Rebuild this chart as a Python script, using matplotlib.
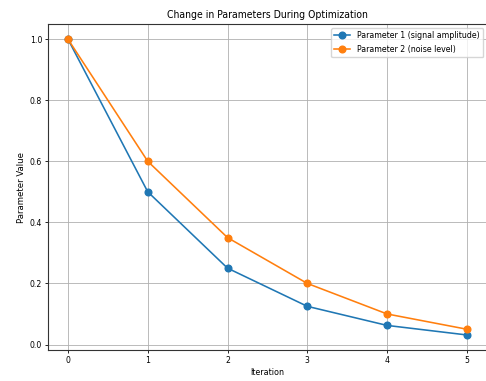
import matplotlib
matplotlib.use("Agg")
import matplotlib.pyplot as plt
from matplotlib import font_manager
from matplotlib.font_manager import FontProperties

iterations = [0, 1, 2, 3, 4, 5]
param1_signal_amplitude = [1.0, 0.5, 0.25, 0.125, 0.0625, 0.03125]
param2_noise_level = [1.0, 0.6, 0.35, 0.2, 0.1, 0.05]
series_labels = ["Parameter 1 (signal amplitude)", "Parameter 2 (noise level)"]

# Prefer a condensed sans face when the system has one
condensed = [f for f in font_manager.findSystemFonts()
             if f.endswith("DejaVuSansCondensed.ttf")]
fname = condensed[0] if condensed else None


def fp(size):
    if fname:
        return FontProperties(fname=fname, size=size)
    return FontProperties(family="DejaVu Sans", size=size * 0.92)


fig = plt.figure(figsize=(4.86, 3.81), dpi=100)
ax = fig.add_axes([0.0988, 0.082, 0.903, 0.854])

ax.plot(iterations, param1_signal_amplitude, marker="o", color="#1f77b4",
        linewidth=1.15, markersize=4.8, label=series_labels[0])
ax.plot(iterations, param2_noise_level, marker="o", color="#ff7f0e",
        linewidth=1.15, markersize=4.8, label=series_labels[1])

ax.set_title("Change in Parameters During Optimization", fontproperties=fp(7.5), pad=4.5)
ax.set_xlabel("Iteration", fontproperties=fp(6.4), labelpad=2.5)
ax.set_ylabel("Parameter Value", fontproperties=fp(6.8), labelpad=3)
ax.set_xticks(iterations)
ax.tick_params(length=2.2, width=0.6, pad=2)
for lbl in ax.get_xticklabels() + ax.get_yticklabels():
    lbl.set_fontproperties(fp(6.2))
ax.grid(True, color="#b0b0b0", linewidth=0.6)
for s in ax.spines.values():
    s.set_linewidth(0.8)
    s.set_color("#333333")

ax.legend(prop=fp(6.3), loc="upper right", borderaxespad=0.4,
          handlelength=1.8, framealpha=0.8, edgecolor="#cccccc")

fig.savefig("out.png", dpi=100)
